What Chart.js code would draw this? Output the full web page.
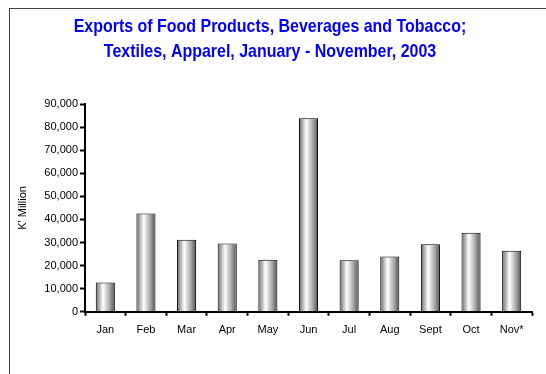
<!DOCTYPE html>
<html>
<head>
<meta charset="utf-8">
<script src="https://cdn.jsdelivr.net/npm/chart.js@4"></script>
<style>
    html, body { margin: 0; padding: 0; background: #fff; overflow: hidden; }
    #wrap { position: relative; width: 546px; height: 374px; }
    #frame {
        position: absolute; left: 9px; top: 8px; width: 600px; height: 400px;
        border-left: 1px solid #404040; border-top: 1px solid #404040;
    }
    canvas { position: absolute; left: 0; top: 0; }
</style>
</head>
<body>
<div id="wrap">
    <div id="frame"></div>
    <canvas id="exportsChart" width="546" height="374"></canvas>
</div>
<script>
// Données
const months = ['Jan', 'Feb', 'Mar', 'Apr', 'May', 'Jun', 'Jul', 'Aug', 'Sept', 'Oct', 'Nov*'];
const exportsValues = [12700, 42600, 31200, 29600, 22500, 83800, 22300, 24000, 29300, 34200, 26400];
const titleLines = ['Exports of Food Products, Beverages and Tobacco;', 'Textiles, Apparel, January - November, 2003'];
const yTitle = "K' Million";

const barPct = 0.47;

// Dégradé "cylindre" pour chaque barre
function barGradient(ctx) {
    const chart = ctx.chart;
    const xScale = chart.scales.x;
    if (!chart.chartArea || !xScale || ctx.dataIndex === undefined) return '#999';
    const center = xScale.getPixelForValue(ctx.dataIndex);
    const catWidth = chart.chartArea.width / months.length;
    const w = catWidth * barPct;
    const g = chart.ctx.createLinearGradient(center - w / 2, 0, center + w / 2, 0);
    g.addColorStop(0, '#666666');
    g.addColorStop(0.38, '#ffffff');
    g.addColorStop(0.72, '#a8a8a8');
    g.addColorStop(1, '#505050');
    return g;
}

// Titre étroit (pas de police "Narrow" installée : on compresse horizontalement)
const narrowTitle = {
    id: 'narrowTitle',
    afterDraw(chart) {
        const c = chart.ctx;
        c.save();
        c.fillStyle = '#0000ff';
        c.font = "bold 19px 'Liberation Sans', Arial, sans-serif";
        c.textAlign = 'center';
        c.textBaseline = 'middle';
        c.scale(0.84, 1);
        c.fillText(titleLines[0], 270 / 0.84, 27);
        c.fillText(titleLines[1], 270 / 0.84, 52);
        c.restore();
    }
};

const tickFont = { family: "'Liberation Sans', Arial, sans-serif", size: 11 };

new Chart(document.getElementById('exportsChart'), {
    type: 'bar',
    data: {
        labels: months,
        datasets: [{
            data: exportsValues,
            backgroundColor: barGradient,
            borderColor: '#000',
            borderWidth: 1,
            borderSkipped: 'bottom',
            barPercentage: barPct,
            categoryPercentage: 1
        }]
    },
    options: {
        responsive: false,
        animation: false,
        layout: { padding: { top: 104, left: 0, right: 14, bottom: 29 } },
        plugins: {
            legend: { display: false },
            tooltip: { enabled: false },
            title: { display: false }
        },
        scales: {
            x: {
                grid: {
                    drawOnChartArea: false,
                    drawTicks: true,
                    tickLength: 4,
                    tickWidth: 2,
                    tickColor: '#000'
                },
                border: { color: '#000', width: 2 },
                ticks: { color: '#000', font: tickFont, padding: 8, maxRotation: 0 }
            },
            y: {
                min: 0,
                max: 90000,
                afterFit: scale => { scale.width = 85; },
                grid: {
                    drawOnChartArea: false,
                    tickLength: 5,
                    tickWidth: 2,
                    tickColor: '#000'
                },
                border: { color: '#000', width: 2 },
                ticks: {
                    stepSize: 10000,
                    color: '#000',
                    font: tickFont,
                    padding: 2,
                    callback: v => v.toLocaleString('en-US')
                },
                title: {
                    display: true,
                    text: yTitle,
                    color: '#000',
                    font: tickFont,
                    padding: { top: 16, bottom: 0 }
                }
            }
        }
    },
    plugins: [narrowTitle]
});
</script>
</body>
</html>
